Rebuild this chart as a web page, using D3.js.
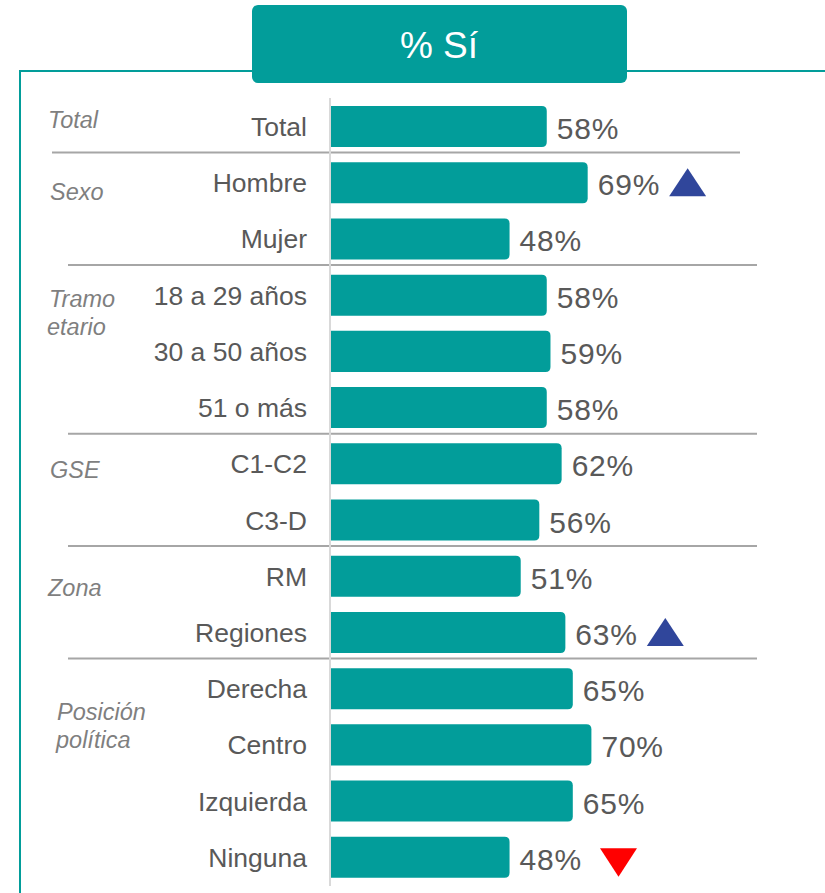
<!DOCTYPE html>
<html><head><meta charset="utf-8">
<script src="https://cdn.jsdelivr.net/npm/d3@7"></script>
<style>html,body{margin:0;padding:0;background:#fff;}svg{display:block;font-family:"Liberation Sans",Arial,sans-serif;}</style>
</head><body>
<svg id="chart" width="825" height="893"></svg>
<script>
// ---- data ----
const title = "% Sí";
const groups = ["Total", "Sexo", "Tramo etario", "GSE", "Zona", "Posición política"];
const categories = ["Total", "Hombre", "Mujer", "18 a 29 años", "30 a 50 años", "51 o más",
  "C1-C2", "C3-D", "RM", "Regiones", "Derecha", "Centro", "Izquierda", "Ninguna"];
const categoryGroup = ["Total", "Sexo", "Sexo", "Tramo etario", "Tramo etario", "Tramo etario",
  "GSE", "GSE", "Zona", "Zona", "Posición política", "Posición política", "Posición política", "Posición política"];
const values = [58, 69, 48, 58, 59, 58, 62, 56, 51, 63, 65, 70, 65, 48];
const significance = ["", "up", "", "", "", "", "", "", "", "up", "", "", "", "down"];

// ---- layout ----
const teal = "#029d9a";
const svg = d3.select("#chart");
const x0 = 331;
const x = d3.scaleLinear().domain([0, 100]).range([x0, x0 + 372]);
const y = d3.scaleBand().domain(categories).range([98.4, 885.4]).paddingInner(0.27).paddingOuter(0.135);

// frame
svg.append("path").attr("d", "M20,893 V71 H825").attr("fill", "none").attr("stroke", teal).attr("stroke-width", 2);
// header
svg.append("rect").attr("x", 252).attr("y", 5).attr("width", 375).attr("height", 78).attr("rx", 6).attr("fill", teal);
svg.append("text").attr("x", 439).attr("y", 58).attr("text-anchor", "middle").attr("fill", "#fff")
  .attr("font-size", 37).text(title);

// separators between groups
const firstIdx = groups.map(g => categoryGroup.indexOf(g));
firstIdx.slice(1).forEach((idx, k) => {
  const yy = y(categories[idx]) - (y.step() - y.bandwidth()) / 2 - 2;
  svg.append("line").attr("x1", k === 0 ? 52 : 68).attr("x2", k === 0 ? 740 : 757)
    .attr("y1", yy).attr("y2", yy).attr("stroke", "#a6a6a6").attr("stroke-width", 2);
});

// bars with rounded right corners
const r = 5;
svg.append("g").selectAll("path").data(values).join("path")
  .attr("fill", teal)
  .attr("d", (v, i) => {
    const y0 = y(categories[i]), h = y.bandwidth(), x1 = x(v);
    return `M${x0},${y0} H${x1 - r} Q${x1},${y0} ${x1},${y0 + r} V${y0 + h - r} Q${x1},${y0 + h} ${x1 - r},${y0 + h} H${x0} Z`;
  });

// axis line
svg.append("line").attr("x1", 330).attr("x2", 330).attr("y1", 98).attr("y2", 886)
  .attr("stroke", "#d9d9d9").attr("stroke-width", 2);

// category labels
svg.append("g").selectAll("text").data(categories).join("text")
  .attr("x", 307).attr("y", d => y(d) + y.bandwidth() / 2 + 9.5)
  .attr("text-anchor", "end").attr("fill", "#595959").attr("font-size", 26.5).text(d => d);

// value labels
const valueLabels = svg.append("g").selectAll("text").data(values).join("text")
  .attr("x", v => x(v) + 10).attr("y", (v, i) => y(categories[i]) + y.bandwidth() / 2 + 12.5)
  .attr("fill", "#595959").attr("font-size", 30).attr("letter-spacing", 0.8).text(v => v + "%");

// significance triangles
valueLabels.each(function (v, i) {
  const s = significance[i];
  if (!s) return;
  const w = this.getComputedTextLength();
  const gap = s === "down" ? 18 : 9;
  const cx = x(v) + 10 + w + gap + 18.5;
  const cy = y(categories[i]) + y.bandwidth() / 2;
  let d;
  if (s === "up") d = `M${cx - 18.5},${cy + 13.5} L${cx + 18.5},${cy + 13.5} L${cx},${cy - 14.5} Z`;
  else d = `M${cx - 18.5},${cy - 9} L${cx + 18.5},${cy - 9} L${cx},${cy + 19.5} Z`;
  svg.append("path").attr("d", d).attr("fill", s === "up" ? "#30469b" : "#ff0000");
});

// group labels (italic)
const groupLayout = {
  "Total": [[48, 128, "Total"]],
  "Sexo": [[50, 200, "Sexo"]],
  "Tramo etario": [[49, 307, "Tramo"], [47, 335, "etario"]],
  "GSE": [[50, 478, "GSE"]],
  "Zona": [[48, 596, "Zona"]],
  "Posición política": [[57, 720, "Posición"], [56, 748, "política"]]
};
groups.forEach(g => {
  groupLayout[g].forEach(([gx, gy, t]) => {
    svg.append("text").attr("x", gx).attr("y", gy).attr("fill", "#7f7f7f")
      .attr("font-size", 23.5).attr("font-style", "italic").text(t);
  });
});
</script>
</body></html>
